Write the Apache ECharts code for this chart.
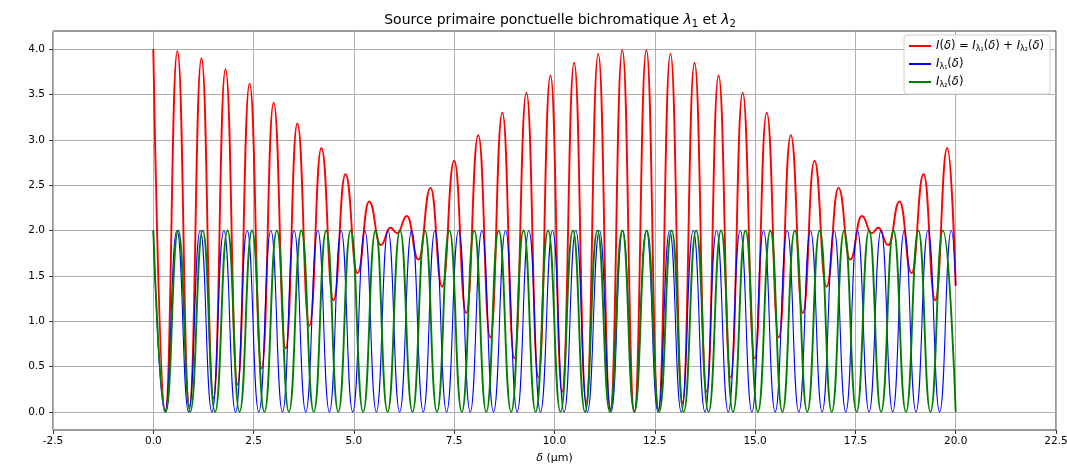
<!DOCTYPE html>
<html><head><meta charset="utf-8">
<script src="https://cdn.jsdelivr.net/npm/echarts@6/dist/echarts.min.js"></script>
<style>html,body{margin:0;padding:0;background:#fff}#c{width:1067px;height:464px}</style>
</head><body><div id="c"></div>
<script>
// Red: extrema of I(δ)
const redX = [0.00,0.30,0.60,0.90,1.20,1.50,1.80,2.10,2.40,2.70,3.00,3.30,3.59,3.89,4.19,4.49,4.79,5.09,5.38,5.67,5.91,6.08,6.32,6.61,6.91,7.20,7.50,7.80,8.10,8.40,8.70,9.00,9.30,9.60,9.90,10.19,10.49,10.79,11.09,11.39,11.69,11.99,12.29,12.59,12.89,13.19,13.49,13.79,14.09,14.39,14.69,14.99,15.29,15.59,15.89,16.19,16.48,16.78,17.08,17.37,17.66,17.91,18.07,18.32,18.60,18.90,19.20,19.49,19.79,20.00];
const redY = [4.00,0.01,3.98,0.06,3.90,0.15,3.78,0.30,3.62,0.48,3.41,0.70,3.18,0.95,2.91,1.23,2.62,1.53,2.32,1.84,2.03,1.97,2.16,1.68,2.47,1.38,2.77,1.09,3.05,0.82,3.30,0.59,3.52,0.38,3.71,0.22,3.85,0.10,3.95,0.02,3.99,0.00,3.99,0.02,3.95,0.10,3.85,0.22,3.71,0.38,3.52,0.59,3.30,0.82,3.05,1.09,2.77,1.38,2.47,1.68,2.16,1.97,2.03,1.84,2.32,1.53,2.62,1.23,2.91,1.39];
// Blue: extrema of I_λ1(δ)
const blueX = [0,0.29,0.59,0.88,1.17,1.46,1.76,2.05,2.34,2.63,2.93,3.22,3.51,3.80,4.10,4.39,4.68,4.97,5.27,5.56,5.85,6.14,6.44,6.73,7.02,7.31,7.61,7.90,8.19,8.48,8.78,9.07,9.36,9.65,9.95,10.24,10.53,10.82,11.12,11.41,11.70,11.99,12.29,12.58,12.87,13.16,13.46,13.75,14.04,14.33,14.63,14.92,15.21,15.50,15.80,16.09,16.38,16.67,16.97,17.26,17.55,17.84,18.14,18.43,18.72,19.01,19.31,19.60,19.89,20.00];
const blueY = [2,0,2,0,2,0,2,0,2,0,2,0,2,0,2,0,2,0,2,0,2,0,2,0,2,0,2,0,2,0,2,0,2,0,2,0,2,0,2,0,2,0,2,0,2,0,2,0,2,0,2,0,2,0,2,0,2,0,2,0,2,0,2,0,2,0,2,0,2,1.39];
// Green: extrema of I_λ2(δ)
const greenX = [0,0.31,0.62,0.92,1.23,1.54,1.85,2.15,2.46,2.77,3.08,3.38,3.69,4.00,4.31,4.61,4.92,5.23,5.54,5.84,6.15,6.46,6.77,7.07,7.38,7.69,8.00,8.30,8.61,8.92,9.23,9.53,9.84,10.15,10.46,10.76,11.07,11.38,11.69,11.99,12.30,12.61,12.92,13.22,13.53,13.84,14.15,14.45,14.76,15.07,15.38,15.68,15.99,16.30,16.61,16.91,17.22,17.53,17.84,18.14,18.45,18.76,19.07,19.37,19.68,20.00];
const greenY = [2,0,2,0,2,0,2,0,2,0,2,0,2,0,2,0,2,0,2,0,2,0,2,0,2,0,2,0,2,0,2,0,2,0,2,0,2,0,2,0,2,0,2,0,2,0,2,0,2,0,2,0,2,0,2,0,2,0,2,0,2,0,2,0,2,0];
const xTicks = [-2.5,0,2.5,5,7.5,10,12.5,15,17.5,20,22.5];
const yTicks = [0,0.5,1,1.5,2,2.5,3,3.5,4];
const seriesNames = ['I', 'I1', 'I2'];
const legendLabels = {
  'I': '{it|I}({it|δ}) = {it|I}{sub|λ₁}({it|δ}) + {it|I}{sub|λ₂}({it|δ})',
  'I1': '{it|I}{sub|λ₁}({it|δ})',
  'I2': '{it|I}{sub|λ₂}({it|δ})'
};
const pairs = (xs, ys) => xs.map((x, i) => [x, ys[i]]);
const FONT = 'DejaVu Sans';
const chart = echarts.init(document.getElementById('c'), null, {renderer: 'canvas'});
const mkSeries = (name, xs, ys, color, w) => ({
  name, type: 'line', data: pairs(xs, ys), showSymbol: false, symbol: 'none',
  smooth: 0.5, smoothMonotone: 'x', lineStyle: {color, width: w}, itemStyle: {color},
  emphasis: {disabled: true}, animation: false, clip: true
});
chart.setOption({
  animation: false,
  backgroundColor: '#fff',
  title: {
    text: 'Source primaire ponctuelle bichromatique {it|λ}{sub|1} et {it|λ}{sub|2}',
    left: 555, top: 7, textAlign: 'center',
    textStyle: {fontFamily: FONT, fontSize: 14, fontWeight: 'normal', color: '#000',
      rich: {it: {fontFamily: FONT, fontSize: 14, fontStyle: 'italic', color: '#000'},
             sub: {fontFamily: FONT, fontSize: 10, color: '#000', padding: [7, 0, 0, 0]}}}
  },
  grid: {left: 53, right: 11, top: 31, bottom: 34, show: true, borderColor: '#333', borderWidth: 1, backgroundColor: 'transparent', outerBoundsMode: 'none', containLabel: false},
  legend: {
    data: seriesNames, orient: 'vertical', right: 17, top: 35,
    backgroundColor: 'rgba(255,255,255,0.85)', borderColor: '#d0d0d0', borderWidth: 1, borderRadius: 3,
    padding: [5, 6, 5, 5], itemGap: 5, itemWidth: 22, itemHeight: 2, icon: 'rect',
    formatter: name => legendLabels[name],
    textStyle: {fontFamily: FONT, fontSize: 11.5, color: '#000',
      rich: {it: {fontFamily: FONT, fontSize: 11.5, fontStyle: 'italic', color: '#000'},
             sub: {fontFamily: FONT, fontSize: 8, color: '#000', padding: [6, 0, 0, 0]}}}
  },
  xAxis: {
    type: 'value', min: -2.5, max: 22.5, interval: 2.5,
    name: '{it|δ} (µm)', nameLocation: 'middle', nameGap: 23,
    nameTextStyle: {fontFamily: FONT, fontSize: 11, color: '#000',
      rich: {it: {fontFamily: FONT, fontSize: 11, fontStyle: 'italic', color: '#000'}}},
    axisLine: {show: false, onZero: false},
    axisTick: {show: true, length: 4, lineStyle: {color: '#333'}, customValues: xTicks},
    axisLabel: {fontFamily: FONT, fontSize: 10.5, color: '#000', margin: 6, formatter: v => v.toFixed(1), customValues: xTicks},
    splitLine: {show: true, lineStyle: {color: '#b0b0b0', width: 1}}
  },
  yAxis: {
    type: 'value', min: -0.2, max: 4.2, minInterval: 0.5, maxInterval: 0.5,
    axisLine: {show: false, onZero: false},
    axisTick: {show: true, length: 4, lineStyle: {color: '#333'}, customValues: yTicks},
    axisLabel: {fontFamily: FONT, fontSize: 10.5, color: '#000', margin: 8, formatter: v => v.toFixed(1), customValues: yTicks},
    splitLine: {show: true, lineStyle: {color: '#b0b0b0', width: 1}}
  },
  series: [
    mkSeries('I', redX, redY, '#ff0000', 1.9),
    mkSeries('I1', blueX, blueY, '#0000ff', 1.1),
    mkSeries('I2', greenX, greenY, '#008000', 1.9)
  ]
});
</script></body></html>
